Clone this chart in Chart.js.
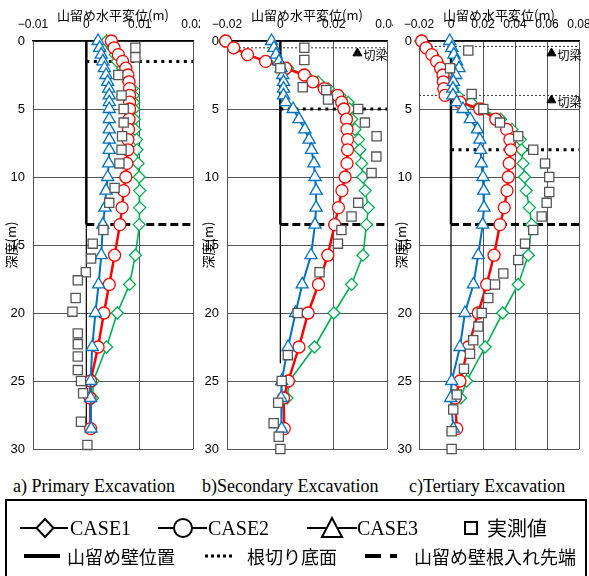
<!DOCTYPE html>
<html>
<head>
<meta charset="utf-8">
<script src="https://cdn.jsdelivr.net/npm/chart.js@4.4.1/dist/chart.umd.min.js"></script>
<style>
  html, body { margin: 0; padding: 0; background: #fff; }
  #page { position: relative; width: 589px; height: 576px; overflow: hidden; background: #fff; }
  canvas { position: absolute; top: 0; background: #fff; }
  #ca { left: 0; }
  #cb { left: 200px; }
  #cc { left: 393px; }
  .cap { position: absolute; top: 475px; font: 18px "Liberation Serif", "Times New Roman", serif; line-height: 22px; white-space: nowrap; }
  .lg { position: absolute; white-space: nowrap; }
  .en { font: 20px "Liberation Serif", "Times New Roman", serif; line-height: 24px; top: 516px; }
  .jp1 { font: 20px "Noto Sans CJK JP", sans-serif; line-height: 24px; top: 516px; }
  .jp2 { font: 18px "Noto Sans CJK JP", sans-serif; line-height: 22px; top: 545px; }
  #box { position: absolute; left: 5px; top: 499px; width: 582px; height: 90px; border: 2px solid #000; box-sizing: border-box; }
  #sym { position: absolute; left: 0; top: 0; pointer-events: none; }
</style>
</head>
<body>
<div id="page">
  <canvas id="ca" width="205" height="460"></canvas>
  <canvas id="cb" width="200" height="460"></canvas>
  <canvas id="cc" width="196" height="460"></canvas>

  <div class="cap" style="left:13px">a) Primary Excavation</div>
  <div class="cap" style="left:202px">b)Secondary Excavation</div>
  <div class="cap" style="left:409px">c)Tertiary Excavation</div>

  <div id="box"></div>
  <svg id="sym" width="589" height="576">
    <line x1="20" y1="528" x2="68" y2="528" stroke="#000" stroke-width="2"/>
    <polygon points="45,519 53.5,528 45,537 36.5,528" fill="#fff" stroke="#000" stroke-width="2"/>
    <line x1="158" y1="528" x2="207" y2="528" stroke="#000" stroke-width="2"/>
    <circle cx="183" cy="528" r="9" fill="#fff" stroke="#000" stroke-width="2"/>
    <line x1="307" y1="528" x2="357" y2="528" stroke="#000" stroke-width="2"/>
    <polygon points="332,518 342,537 322,537" fill="#fff" stroke="#000" stroke-width="2"/>
    <rect x="465" y="522" width="12" height="12" fill="#fff" stroke="#000" stroke-width="2"/>
    <line x1="24" y1="556" x2="60" y2="556" stroke="#000" stroke-width="4"/>
    <line x1="205" y1="556" x2="232" y2="556" stroke="#000" stroke-width="3" stroke-dasharray="3,3"/>
    <line x1="365" y1="556" x2="381" y2="556" stroke="#000" stroke-width="4"/>
    <line x1="390" y1="556" x2="397" y2="556" stroke="#000" stroke-width="4"/>
  </svg>
  <div class="lg en" style="left:70px">CASE1</div>
  <div class="lg en" style="left:208px">CASE2</div>
  <div class="lg en" style="left:357px">CASE3</div>
  <div class="lg jp1" style="left:487px">実測値</div>
  <div class="lg jp2" style="left:67px">山留め壁位置</div>
  <div class="lg jp2" style="left:247px">根切り底面</div>
  <div class="lg jp2" style="left:414px">山留め壁根入れ先端</div>
</div>

<script>
(function () {
  'use strict';

  // 解析節点の深度 (m)
  const nodeDepth = [0, 0.5, 1, 1.5, 2, 2.5, 3, 3.5, 4, 4.5, 5, 5.75, 6.5, 7.25, 8, 9, 10, 11, 12.25, 13.5, 15.75, 17.9, 20, 22.5, 25, 26.25, 28.5];

  // a) 一次掘削
  const case1A = [0.0038, 0.0049, 0.0054, 0.0058, 0.0068, 0.0074, 0.0079, 0.0086, 0.0088, 0.0089, 0.0089, 0.009, 0.0091, 0.0094, 0.0095, 0.0097, 0.0099, 0.01, 0.01, 0.0099, 0.0092, 0.0081, 0.0058, 0.0038, 0.0013, 0.0012, null];
  const case2A = [0.0047, 0.0052, 0.006, 0.0068, 0.0074, 0.0078, 0.008, 0.0081, 0.0081, 0.0081, 0.0081, 0.008, 0.0079, 0.0078, 0.0078, 0.0076, 0.0074, 0.007, 0.0067, 0.0063, 0.0053, 0.0043, 0.0033, 0.0022, 0.0008, 0.0007, 0.0008];
  const case3A = [0.0022, 0.0025, 0.0028, 0.0031, 0.0034, 0.0037, 0.004, 0.0042, 0.0043, 0.0043, 0.0043, 0.0043, 0.0043, 0.0043, 0.0043, 0.0042, 0.004, 0.0037, 0.0035, 0.0031, 0.0028, 0.0023, 0.0017, 0.0011, 0.0008, 0.0008, 0.0009];
  const measDepthA = [0.5, 1.2, 2.5, 4, 5, 6, 7, 8, 9, 10.8, 11.9, 13.9, 14.9, 16, 17, 17.6, 18.9, 19.9, 21.5, 22.3, 23.2, 24.2, 25, 25.9, 28, 29.7];
  const measA = [0.0092, 0.0092, 0.006, 0.0066, 0.007, 0.007, 0.0067, 0.0066, 0.0062, 0.0053, 0.0043, 0.0032, 0.0012, 0.0009, -0.0001, -0.0016, -0.002, -0.0026, -0.0016, -0.0016, -0.0016, -0.0016, -0.001, -0.0006, -0.001, 0.0002];

  // b) 二次掘削
  const case1B = [-0.021, -0.0175, -0.0126, -0.005, 0.0028, 0.0095, 0.0141, 0.018, 0.0223, 0.0254, 0.026, 0.0268, 0.028, 0.0293, 0.0298, 0.0305, 0.031, 0.0318, 0.033, 0.0323, 0.031, 0.0267, 0.0201, 0.0128, 0.0034, 0.0025, null];
  const case2B = [-0.0205, -0.0175, -0.0123, -0.0055, 0.002, 0.009, 0.0122, 0.0165, 0.0215, 0.023, 0.0238, 0.0248, 0.025, 0.0252, 0.0252, 0.025, 0.0243, 0.0231, 0.0218, 0.0204, 0.0178, 0.0143, 0.0104, 0.007, 0.003, 0.0012, 0.0015];
  const case3B = [-0.0033, -0.0024, -0.0016, -0.0005, 0.0003, 0.0009, 0.0012, 0.0012, 0.0012, 0.002, 0.0048, 0.007, 0.0092, 0.0108, 0.0117, 0.0126, 0.013, 0.0134, 0.0134, 0.013, 0.0115, 0.0082, 0.0057, 0.0029, 0.0005, 0.0003, 0.0005];
  const measDepthB = [0.5, 1.4, 2, 3.4, 3.6, 4.3, 5, 6, 7, 8.5, 9.7, 11.9, 12.9, 13.9, 14.9, 17, 20, 23.1, 25, 26.6, 28.1, 29.1, 30];
  const measB = [0.009, 0.009, 0, 0.0084, 0.0172, 0.0179, 0.0292, 0.0317, 0.0361, 0.036, 0.0342, 0.0292, 0.0267, 0.0229, 0.0216, 0.0147, 0.0065, 0.0028, 0.0005, -0.0008, -0.0025, -0.0006, 0];

  // c) 三次掘削
  const case1C = [-0.019, -0.0155, -0.0115, -0.0085, -0.005, -0.003, -0.0015, 0.001, 0.004, 0.0125, 0.02, 0.031, 0.038, 0.0433, 0.044, 0.045, 0.046, 0.047, 0.049, 0.0504, 0.0483, 0.042, 0.0323, 0.0213, 0.0098, 0.006, null];
  const case2C = [-0.0183, -0.0156, -0.012, -0.009, -0.0065, -0.005, -0.0048, -0.0045, -0.0037, 0.0056, 0.018, 0.028, 0.0348, 0.0368, 0.0373, 0.0364, 0.0358, 0.035, 0.0333, 0.0306, 0.0269, 0.0223, 0.017, 0.0108, 0.0056, 0.0025, 0.0036];
  const case3C = [-0.0008, 0.0005, 0.0018, 0.0035, 0.005, 0.003, 0.0015, 0.0012, 0.0012, 0.0035, 0.0075, 0.012, 0.0165, 0.018, 0.0185, 0.019, 0.02, 0.0205, 0.0206, 0.0198, 0.017, 0.014, 0.0087, 0.0056, 0.0004, -0.0002, 0.0015];
  const measDepthC = [0.7, 2, 3.9, 5, 6, 7, 8, 9, 10, 11.1, 11.9, 12.9, 13.9, 14.9, 16.1, 17.1, 17.9, 18.9, 20, 21, 22, 23, 24.1, 26, 27.1, 28.7, 30];
  const measC = [0.0108, -0.0006, 0.0129, 0.0202, 0.0306, 0.042, 0.0514, 0.0588, 0.0614, 0.0614, 0.0598, 0.0567, 0.0514, 0.0463, 0.042, 0.0327, 0.0275, 0.0233, 0.0192, 0.0171, 0.0139, 0.0119, 0.0081, 0.0036, 0.0014, 0.0004, 0.0004];

  // 軸範囲 [min, max, step]
  const xAxisA = [-0.01, 0.02, 0.01];
  const xAxisB = [-0.02, 0.04, 0.02];
  const xAxisC = [-0.02, 0.08, 0.02];
  const depthAxis = [0, 30, 5];

  // 山留め壁・根切り・切梁
  const wallTip = 13.5;                 // 山留め壁根入れ先端
  const zeroLineEnd = [28.8, 23.7, 25];  // 壁位置の細線の下端
  const excavBottom = [1.5, 5, 8];       // 根切り底面
  const strutLineB = [0.5];
  const strutLineC = [0.4, 4];
  const strutMarkB = { x: [0.0289], d: [0.9] };
  const strutMarkC = { x: [0.0628, 0.0628], d: [0.9, 4.35] };

  const CJK = '"Noto Sans CJK JP", sans-serif';
  Chart.defaults.font.family = '"Liberation Sans", Arial, sans-serif';
  Chart.defaults.color = '#000';

  function pts(depths, vals) {
    const out = [];
    vals.forEach((v, i) => { if (v !== null) out.push({ x: v, y: depths[i] }); });
    return out;
  }
  function hline(d, x0, x1) { return [{ x: x0, y: d }, { x: x1, y: d }]; }
  function vline(x, d0, d1) { return [{ x: x, y: d0 }, { x: x, y: d1 }]; }

  function caseSet(data, color, style, radius, width) {
    return {
      data, showLine: true, borderColor: color, borderWidth: width,
      pointStyle: style, pointRadius: radius, pointBorderWidth: 1.3,
      pointBorderColor: color, pointBackgroundColor: '#fff', clip: false,
    };
  }
  function plainLine(data, width, dash, color) {
    return { data, showLine: true, borderColor: color || '#000', borderWidth: width, borderDash: dash || [], pointRadius: 0, borderCapStyle: 'butt', clip: false };
  }

  function fmt(v) {
    const s = String(+Math.abs(v).toFixed(3));
    return v < 0 ? '\u2212' + s : s;
  }

  const strutText = {
    id: 'strutText',
    afterDatasetsDraw(chart, args, opts) {
      if (!opts.marks) return;
      const { ctx, scales: { x, y } } = chart;
      ctx.save();
      ctx.font = '12px ' + CJK;
      ctx.fillStyle = '#000';
      ctx.textBaseline = 'middle';
      ctx.textAlign = 'left';
      opts.marks.x.forEach((v, i) => {
        ctx.fillText('切梁', x.getPixelForValue(v) + 6, y.getPixelForValue(opts.marks.d[i]) + 2);
      });
      ctx.restore();
    },
  };

  function makePanel(id, p) {
    const [xmin, xmax, xstep] = p.xAxis;
    const sets = [];
    if (p.marks) {
      sets.push({ data: pts(p.marks.d, p.marks.x), pointStyle: 'triangle', pointRadius: 5.2, pointBackgroundColor: '#000', pointBorderColor: '#000', clip: false });
    }
    sets.push({ data: pts(p.measDepth, p.meas), pointStyle: 'rect', pointRadius: 6.5, pointBorderWidth: 1.3, pointBorderColor: '#555', pointBackgroundColor: '#fff', clip: false });
    sets.push(caseSet(pts(nodeDepth, p.case3), '#0070c0', 'triangle', 7, 2));
    sets.push(caseSet(pts(nodeDepth, p.case2), '#ff0000', 'circle', 6, 2.5));
    sets.push(caseSet(pts(nodeDepth, p.case1), '#00b050', 'rectRot', 6, 1.6));
    sets.push(plainLine(hline(wallTip, 0, xmax), 3, [8, 4]));
    sets.push(plainLine(hline(p.excav, 0, xmax), 3, [3, 4.5]));
    (p.struts || []).forEach(d => sets.push(plainLine(hline(d, xmin, xmax), 1, [2, 2], '#333')));
    sets.push(plainLine(vline(0, 0, wallTip), 2.5));
    sets.push(plainLine(vline(0, wallTip, p.zeroEnd), 1.2));

    return new Chart(document.getElementById(id), {
      type: 'scatter',
      data: { datasets: sets },
      plugins: [strutText],
      options: {
        responsive: false, animation: false,
        layout: { padding: { left: 0, right: p.padRight, top: 0, bottom: 11 } },
        plugins: { legend: { display: false }, tooltip: { enabled: false }, strutText: { marks: p.marks } },
        scales: {
          x: {
            type: 'linear', position: 'top', min: xmin, max: xmax,
            ticks: { stepSize: xstep, padding: 9, autoSkip: false, maxRotation: 0, font: { size: 12 }, callback: fmt },
            grid: { drawTicks: false, color: c => (c.tick && c.tick.value === 0 ? 'rgba(0,0,0,0)' : '#555') },
            border: { color: '#000', width: 1.5 },
            title: { display: true, text: '山留め水平変位(m)', font: { family: CJK, size: 13 }, padding: { top: 7, bottom: 0 } },
            afterFit: s => { s.height = 41; s.paddingLeft = 0; s.paddingRight = 0; },
          },
          y: {
            type: 'linear', reverse: true, min: depthAxis[0], max: depthAxis[1],
            ticks: { stepSize: depthAxis[2], padding: p.tickPad, font: { size: 13 } },
            grid: { drawTicks: false, color: '#555' },
            border: { color: '#555' },
            title: { display: true, text: '深度(m)', font: { family: CJK, size: 13 }, padding: { top: p.titlePad, bottom: 0 } },
            afterFit: s => { s.width = p.yWidth; s.paddingTop = 0; s.paddingBottom = 0; },
          },
        },
      },
    });
  }

  makePanel('ca', { xAxis: xAxisA, case1: case1A, case2: case2A, case3: case3A, measDepth: measDepthA, meas: measA,
    excav: excavBottom[0], zeroEnd: zeroLineEnd[0], yWidth: 33, padRight: 12, tickPad: 8, titlePad: 3 });
  makePanel('cb', { xAxis: xAxisB, case1: case1B, case2: case2B, case3: case3B, measDepth: measDepthB, meas: measB,
    excav: excavBottom[1], zeroEnd: zeroLineEnd[1], struts: strutLineB, marks: strutMarkB, yWidth: 27, padRight: 13, tickPad: 8, titlePad: 0 });
  makePanel('cc', { xAxis: xAxisC, case1: case1C, case2: case2C, case3: case3C, measDepth: measDepthC, meas: measC,
    excav: excavBottom[2], zeroEnd: zeroLineEnd[2], struts: strutLineC, marks: strutMarkC, yWidth: 26, padRight: 10, tickPad: 7, titlePad: 0 });
})();
</script>
</body>
</html>
